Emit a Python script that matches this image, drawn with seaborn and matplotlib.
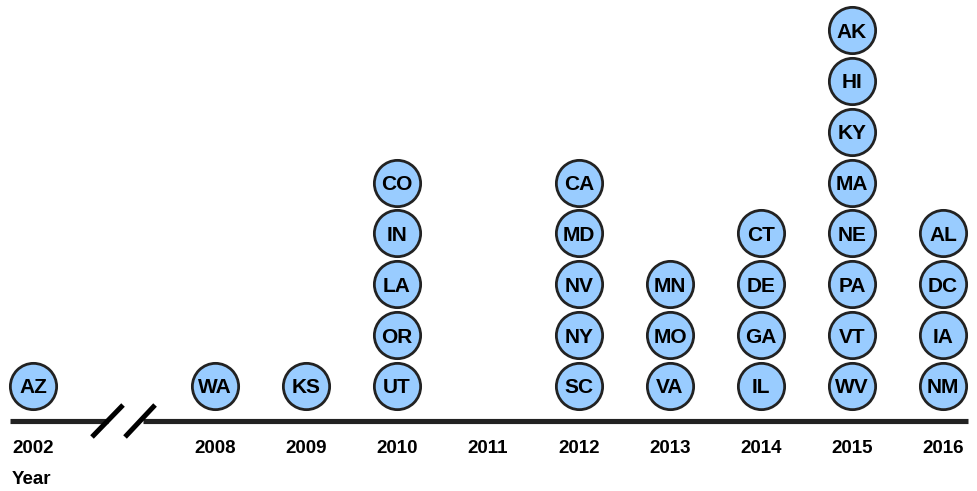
import matplotlib
matplotlib.use("Agg")
import matplotlib.pyplot as plt
import seaborn as sns
import pandas as pd

# ---- data ----
axis_slots = ["2002", None, "2008", "2009", "2010", "2011", "2012", "2013", "2014", "2015", "2016"]
years = ["2002", "2008", "2009", "2010", "2011", "2012", "2013", "2014", "2015", "2016"]
states_2002 = ["AZ"]
states_2008 = ["WA"]
states_2009 = ["KS"]
states_2010 = ["UT", "OR", "LA", "IN", "CO"]
states_2011 = []
states_2012 = ["SC", "NY", "NV", "MD", "CA"]
states_2013 = ["VA", "MO", "MN"]
states_2014 = ["IL", "GA", "DE", "CT"]
states_2015 = ["WV", "VT", "PA", "NE", "MA", "KY", "HI", "AK"]
states_2016 = ["NM", "IA", "DC", "AL"]
axis_title = "Year"

by_year = {
    "2002": states_2002, "2008": states_2008, "2009": states_2009,
    "2010": states_2010, "2011": states_2011, "2012": states_2012,
    "2013": states_2013, "2014": states_2014, "2015": states_2015,
    "2016": states_2016,
}

rows = []
for y in years:
    for level, st in enumerate(by_year[y]):
        rows.append({"year": y, "x": axis_slots.index(y), "level": level, "state": st})
df = pd.DataFrame(rows)

# ---- plot ----
sns.set_theme(style="white")
plt.rcParams["font.family"] = ["Liberation Sans", "DejaVu Sans"]

fig = plt.figure(figsize=(9.78, 4.91), dpi=100)
ax = fig.add_axes([0, 0, 1, 1])

ink = "#222222"
line_y = -0.688
ax.plot([-0.253, 0.824], [line_y, line_y], color=ink, lw=3.7, solid_capstyle="butt", zorder=1)
ax.plot([1.209, 10.275], [line_y, line_y], color=ink, lw=3.7, solid_capstyle="butt", zorder=1)
# break marks
ax.plot([0.648, 0.989], [-1.003, -0.374], color="black", lw=3.6, solid_capstyle="butt", zorder=2)
ax.plot([1.011, 1.341], [-1.003, -0.374], color="black", lw=3.6, solid_capstyle="butt", zorder=2)

sns.scatterplot(data=df, x="x", y="level", s=1110, color="#99CCFF",
                edgecolor=ink, linewidth=2.0, legend=False, ax=ax, zorder=3)
ax.set_xlim(-0.363, 10.385)
ax.set_ylim(-2.065, 7.59)
ax.axis("off")

for _, r in df.iterrows():
    ax.text(r["x"], r["level"], r["state"], ha="center", va="center_baseline",
            fontsize=15, fontweight="bold", color="black", zorder=4)

for y in years:
    ax.text(axis_slots.index(y), -1.22, y, ha="center", va="center",
            fontsize=13.5, fontweight="bold", color="black")
ax.text(-0.231, -1.83, axis_title, ha="left", va="center",
        fontsize=13.5, fontweight="bold", color="black")

fig.savefig("out.png", dpi=100)
